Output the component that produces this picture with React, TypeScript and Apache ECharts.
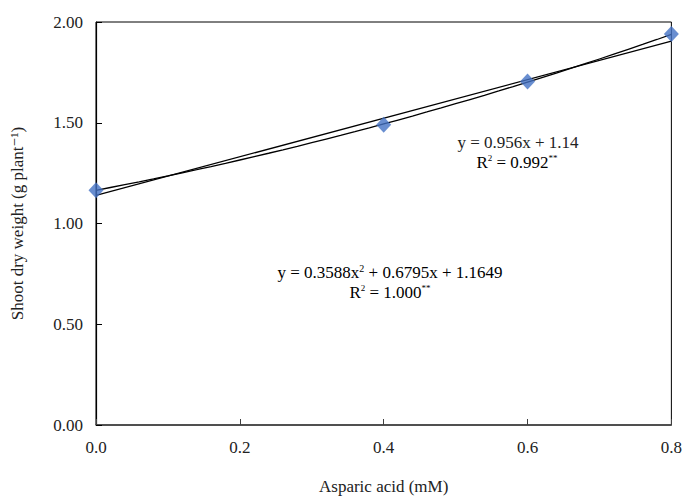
import React, { useEffect, useRef } from "react";
import * as echarts from "echarts";

const xValues = [0, 0.4, 0.6, 0.8];
const yValues = [1.165, 1.49, 1.705, 1.94];
const linearCoef = [0.956, 1.14]; // slope, intercept
const quadCoef = [0.3588, 0.6795, 1.1649]; // a, b, c
const xTicks = [0, 0.2, 0.4, 0.6, 0.8];
const yTicks = [0, 0.5, 1.0, 1.5, 2.0];

const FONT = "'Liberation Serif', 'DejaVu Serif', serif";

export default function App() {
  const ref = useRef<HTMLDivElement>(null);
  useEffect(() => {
    if (!ref.current) return;
    const chart = echarts.init(ref.current, undefined, { renderer: "svg" });
    const xMin = xTicks[0];
    const xMax = xTicks[xTicks.length - 1];
    const linear = [xMin, xMax].map((x) => [x, linearCoef[0] * x + linearCoef[1]]);
    const quad: number[][] = [];
    for (let i = 0; i <= 40; i++) {
      const x = xMin + ((xMax - xMin) * i) / 40;
      quad.push([x, quadCoef[0] * x * x + quadCoef[1] * x + quadCoef[2]]);
    }
    chart.setOption({
      animation: false,
      backgroundColor: "#fff",
      textStyle: { fontFamily: FONT },
      grid: {
        left: 96,
        right: 9,
        top: 22,
        bottom: 72,
        show: true,
        borderColor: "#000",
        borderWidth: 1,
        backgroundColor: "transparent",
      },
      xAxis: {
        type: "value",
        min: xMin,
        max: xMax,
        interval: 0.2,
        name: "Asparic acid (mM)",
        nameLocation: "middle",
        nameGap: 53,
        nameTextStyle: { fontFamily: FONT, fontSize: 17, color: "#222" },
        axisLine: { show: true, lineStyle: { color: "#404040", width: 1.5 } },
        axisTick: { show: true, inside: true, length: 6, lineStyle: { color: "#404040" } },
        axisLabel: {
          fontFamily: FONT,
          fontSize: 17,
          color: "#222",
          margin: 14,
          formatter: (v: number) => v.toFixed(1),
        },
        splitLine: { show: false },
      },
      yAxis: {
        type: "value",
        min: yTicks[0],
        max: yTicks[yTicks.length - 1],
        interval: 0.5,
        name: "Shoot dry weight (g plant⁻¹)",
        nameLocation: "middle",
        nameGap: 70,
        nameTextStyle: { fontFamily: FONT, fontSize: 17, color: "#222" },
        axisLine: { show: true, lineStyle: { color: "#000", width: 1.2 } },
        axisTick: { show: true, inside: true, length: 6, lineStyle: { color: "#000" } },
        axisLabel: {
          fontFamily: FONT,
          fontSize: 17,
          color: "#222",
          margin: 13,
          formatter: (v: number) => v.toFixed(2),
        },
        splitLine: { show: false },
      },
      series: [
        {
          type: "line",
          data: linear,
          symbol: "none",
          lineStyle: { color: "#000", width: 1.3 },
          z: 2,
        },
        {
          type: "line",
          data: quad,
          symbol: "none",
          lineStyle: { color: "#000", width: 1.3 },
          z: 2,
        },
        {
          type: "scatter",
          data: xValues.map((x, i) => [x, yValues[i]]),
          symbol: "diamond",
          symbolSize: [15, 16],
          itemStyle: { color: "#4472C4" },
          z: 3,
        },
      ],
      graphic: [
        {
          type: "text",
          x: 518,
          y: 142,
          style: {
            text: "y = 0.956x + 1.14",
            font: `17px ${FONT}`,
            fill: "#222",
            align: "center",
            verticalAlign: "middle",
          },
        },
        {
          type: "text",
          x: 517,
          y: 162,
          style: {
            text: "{n|R}{s|2}{n| = 0.992}{s|**}",
            align: "center",
            verticalAlign: "middle",
            rich: {
              n: { fontFamily: FONT, fontSize: 17, color: "#222" },
              s: { fontFamily: FONT, fontSize: 9, color: "#222", padding: [0, 0, 8, 0] },
            },
          },
        },
        {
          type: "text",
          x: 390,
          y: 272,
          style: {
            text: "{n|y = 0.3588x}{s|2}{n| + 0.6795x + 1.1649}",
            align: "center",
            verticalAlign: "middle",
            rich: {
              n: { fontFamily: FONT, fontSize: 17, color: "#222" },
              s: { fontFamily: FONT, fontSize: 10, color: "#222", padding: [0, 0, 8, 0] },
            },
          },
        },
        {
          type: "text",
          x: 390,
          y: 292,
          style: {
            text: "{n|R}{s|2}{n| = 1.000}{s|**}",
            align: "center",
            verticalAlign: "middle",
            rich: {
              n: { fontFamily: FONT, fontSize: 17, color: "#222" },
              s: { fontFamily: FONT, fontSize: 9, color: "#222", padding: [0, 0, 8, 0] },
            },
          },
        },
      ],
    });
    return () => chart.dispose();
  }, []);
  return (
    <div
      ref={ref}
      style={{ position: "fixed", left: 0, top: 0, width: 685, height: 500 }}
    />
  );
}
